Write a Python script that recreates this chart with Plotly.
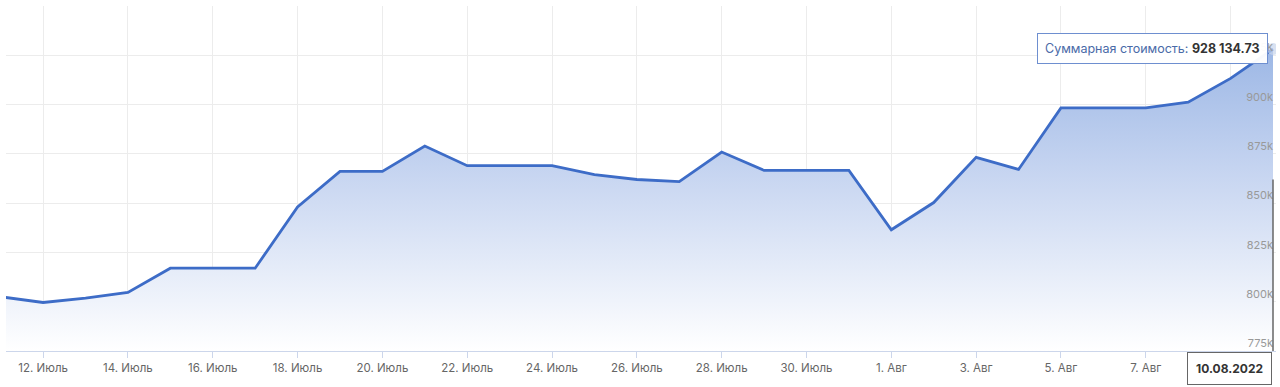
import pandas as pd
import plotly.graph_objects as go

# ---- data ----
dates = list(pd.date_range("2022-07-11", "2022-08-10", freq="D"))
values = [
    802500, 799600, 801800, 804700, 817000, 817000, 817000, 848100,
    866100, 866100, 879000, 869000, 869000, 869000, 864500, 862000,
    860900, 875900, 866600, 866600, 866600, 836500, 850300, 873200,
    867100, 898300, 898300, 898300, 901200, 913300, 928134.73,
]
tick_dates = list(pd.date_range("2022-07-12", "2022-08-09", freq="2D"))
tick_labels = [
    "12. Июль", "14. Июль", "16. Июль", "18. Июль", "20. Июль", "22. Июль",
    "24. Июль", "26. Июль", "28. Июль", "30. Июль", "1. Авг", "3. Авг",
    "5. Авг", "7. Авг", "9. Авг",
]
y_ticks = [775000, 800000, 825000, 850000, 875000, 900000, 925000, 950000]
y_labels = ["775k", "800k", "825k", "850k", "875k", "900k", "925k", ""]
series_name = "Суммарная стоимость"
hover_date = "10.08.2022"
hover_value = "928 134.73"
crosshair_top = 862000

FONT = "Inter, Roboto, sans-serif"

fig = go.Figure()
fig.add_trace(go.Scatter(
    x=dates, y=values, mode="lines", name=series_name,
    line=dict(color="#3d6cc7", width=2.8),
    fill="tozeroy",
    fillgradient=dict(
        type="vertical", start=775000, stop=935000,
        colorscale=[[0, "rgba(255,255,255,1)"], [0.55, "rgb(200,214,241)"], [1, "rgb(152,180,228)"]],
    ),
    hoverinfo="skip",
))
# hovered point halo
fig.add_trace(go.Scatter(
    x=[dates[-1]], y=[values[-1]], mode="markers",
    marker=dict(size=12, color="rgba(200,212,235,0.7)"),
    hoverinfo="skip", showlegend=False,
))

fig.add_shape(type="line", xref="x", yref="y",
              x0=dates[-1], x1=dates[-1], y0=y_ticks[0], y1=crosshair_top,
              line=dict(color="#666666", width=1.5), layer="above")

fig.add_annotation(
    x=dates[-1], y=values[-1], xref="x", yref="y",
    text=f"<span style='color:#4a6aa8'>{series_name}: </span><b>{hover_value}</b>",
    showarrow=False, xanchor="right", yanchor="middle", xshift=-5, yshift=1,
    font=dict(family=FONT, size=12.5, color="#333333"),
    bgcolor="rgba(255,255,255,0.96)", bordercolor="#6e8fd0", borderwidth=1, borderpad=7,
)
fig.add_annotation(
    x=dates[-1], y=0, xref="x", yref="paper",
    text=f"<b>{hover_date}</b>",
    showarrow=False, xanchor="right", yanchor="top", xshift=-1, yshift=-1,
    font=dict(family=FONT, size=12, color="#333333"),
    bgcolor="white", bordercolor="#666666", borderwidth=1, borderpad=8,
)

fig.update_layout(
    width=1280, height=387,
    margin=dict(l=6, r=4, t=6, b=36),
    paper_bgcolor="white", plot_bgcolor="white",
    showlegend=False,
    font=dict(family=FONT),
    xaxis=dict(
        type="date",
        range=[dates[0] + pd.Timedelta(hours=3), dates[-1] + pd.Timedelta(hours=1.7)],
        tickvals=tick_dates, ticktext=tick_labels,
        showgrid=True, gridcolor="#ececec", gridwidth=1,
        showline=True, linecolor="#ccd6eb", linewidth=1,
        ticks="outside", ticklen=6, tickcolor="#ccd6eb",
        tickfont=dict(family=FONT, size=11.5, color="#666666"),
        zeroline=False, fixedrange=True,
    ),
    yaxis=dict(
        range=[775000, 950000],
        tickvals=y_ticks, ticktext=y_labels,
        side="right", ticklabelposition="inside top",
        showgrid=True, gridcolor="#ececec", gridwidth=1,
        tickfont=dict(family=FONT, size=11, color="#999999"),
        zeroline=False, showline=False, fixedrange=True,
    ),
)

fig.write_html("out.html")
